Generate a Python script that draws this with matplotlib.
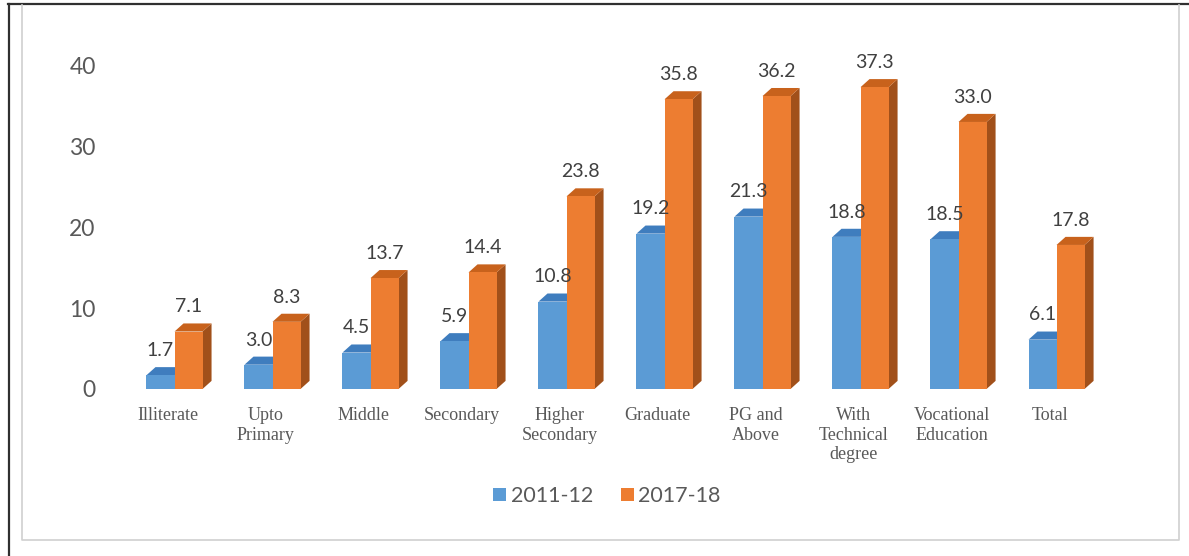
import matplotlib
matplotlib.use("Agg")
import matplotlib.pyplot as plt
import matplotlib.transforms as mtransforms
from matplotlib.patches import Polygon, Patch
from matplotlib.lines import Line2D

categories = ["Illiterate", "Upto\nPrimary", "Middle", "Secondary",
              "Higher\nSecondary", "Graduate", "PG and\nAbove",
              "With\nTechnical\ndegree", "Vocational\nEducation", "Total"]
series_names = ["2011-12", "2017-18"]
values_2011 = [1.7, 3.0, 4.5, 5.9, 10.8, 19.2, 21.3, 18.8, 18.5, 6.1]
values_2017 = [7.1, 8.3, 13.7, 14.4, 23.8, 35.8, 36.2, 37.3, 33.0, 17.8]
yticks = [0, 10, 20, 30, 40]

# face colours: front, top, side
blue = ("#5B9BD5", "#3F7DBE", "#3A6E9F")
orange = ("#ED7D31", "#C8621C", "#A1501A")

sans = ["Lato", "DejaVu Sans"]

fig = plt.figure(figsize=(11.89, 5.56), dpi=100)
ax = fig.add_axes([0.0875, 0.3004, 0.8545, 0.6403])
ax.set_xlim(-0.719, 9.648)
ax.set_ylim(0, 44)

bw = 0.286      # bar width
dx, dy = 0.092, 1.0   # depth offset of the 3d faces


def bar3d(x0, h, cols):
    front, top, side = cols
    ax.add_patch(Polygon([(x0 + bw, 0), (x0 + bw + dx, dy), (x0 + bw + dx, h + dy), (x0 + bw, h)],
                         closed=True, facecolor=side, edgecolor="none"))
    ax.add_patch(Polygon([(x0, h), (x0 + dx, h + dy), (x0 + bw + dx, h + dy), (x0 + bw, h)],
                         closed=True, facecolor=top, edgecolor="none"))
    ax.bar(x0, h, width=bw, align="edge", color=front, linewidth=0)


for i in range(len(categories)):
    bar3d(i - bw, values_2011[i], blue)
    bar3d(i, values_2017[i], orange)
    for x0, v in ((i - bw, values_2011[i]), (i, values_2017[i])):
        ax.annotate(f"{v:.1f}", (x0 + bw / 2, v + dy), xytext=(0, 8),
                    textcoords="offset points", ha="center", va="baseline",
                    fontsize=14, family=sans, color="#404040")

ax.set_yticks(yticks)
ax.set_yticklabels([str(t) for t in yticks], family=sans, fontsize=16.5, color="#595959")
shift = mtransforms.ScaledTranslation(0, -0.045, fig.dpi_scale_trans)
for lab in ax.get_yticklabels():
    lab.set_transform(lab.get_transform() + shift)

ax.set_xticks([i - 0.07 for i in range(len(categories))])
ax.set_xticklabels(categories, family="Liberation Serif", fontsize=13,
                   color="#595959", linespacing=1.2)
ax.tick_params(length=0)
ax.tick_params(axis="x", pad=13)
ax.tick_params(axis="y", pad=6)
for s in ax.spines.values():
    s.set_visible(False)

handles = [Patch(facecolor=blue[0]), Patch(facecolor=orange[0])]
fig.legend(handles, series_names, loc="center", bbox_to_anchor=(607 / 1189, 1 - 496 / 556),
           ncol=2, frameon=False, handlelength=0.6, handleheight=0.6,
           handletextpad=0.2, columnspacing=1.3,
           prop={"family": sans, "size": 15.5}, labelcolor="#595959")

# outer frame
W, H = 1189, 556
fig.add_artist(Line2D([8 / W, 1.0], [1 - 4 / H, 1 - 4 / H], color="#303030", lw=1.6))
fig.add_artist(Line2D([8.5 / W, 8.5 / W], [0, 1 - 4 / H], color="#303030", lw=1.6))
fig.add_artist(Line2D([22.5 / W, 22.5 / W, 1179 / W, 1179 / W],
                      [1 - 5 / H, 1 - 540 / H, 1 - 540 / H, 1 - 5 / H],
                      color="#D0D0D0", lw=1.2))

fig.savefig("out.png", dpi=100)
